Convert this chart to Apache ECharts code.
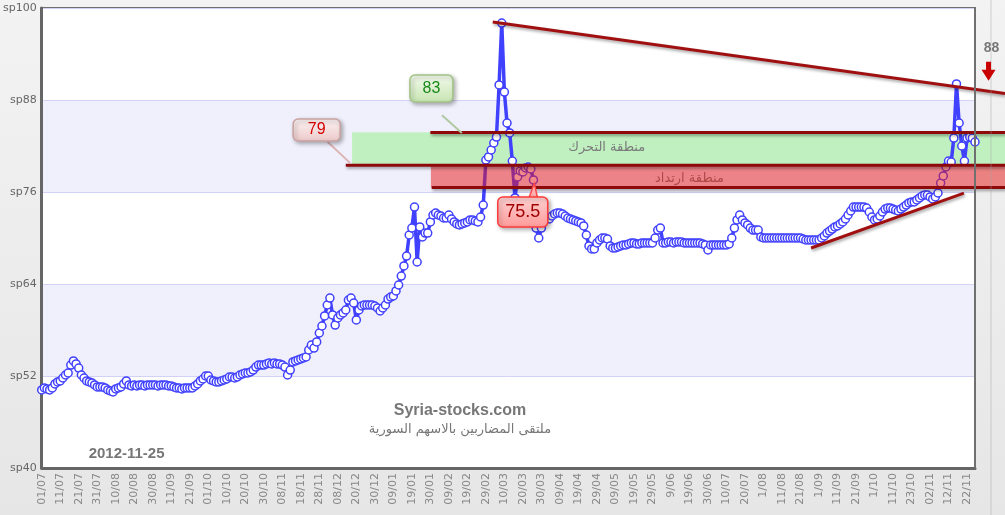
<!DOCTYPE html>
<html>
<head>
<meta charset="utf-8">
<script src="https://cdn.jsdelivr.net/npm/echarts@6/dist/echarts.min.js"></script>
<style>
html,body{margin:0;padding:0;background:linear-gradient(#f3f3f3,#e6e6e6);}
#c{width:1005px;height:515px;}
</style>
</head>
<body>
<div id="c"></div>
<script>
// ---- tick labels (one every 7 trading sessions) ----
const tickLabels = ['01/07','11/07','21/07','31/07','10/08','20/08','30/08','11/09','21/09','01/10',
  '10/10','20/10','30/10','08/11','18/11','28/11','08/12','20/12','30/12','09/01',
  '19/01','30/01','09/02','19/02','29/02','10/03','20/03','30/03','09/04','19/04',
  '29/04','09/05','19/05','29/05','9/06','19/06','30/06','10/07','20/07','1/08',
  '11/08','21/08','1/09','11/09','21/09','1/10','11/10','23/10','02/11','12/11','22/11'];
const sessionsPerTick = 7;

// ---- close values (7 sessions per row) ----
const closeValues = [
  50.18,50.44,50.31,50.18,50.44,50.96,51.22,
  51.35,51.74,52.13,52.39,53.43,53.96,53.57,
  53.04,52.13,51.74,51.35,51.22,51.09,50.83,
  50.57,50.57,50.57,50.44,50.18,50.05,49.92,
  50.31,50.44,50.57,50.96,51.35,50.83,50.70,
  50.83,50.70,50.83,50.83,50.70,50.83,50.83,
  50.83,50.83,50.70,50.83,50.83,50.83,50.70,
  50.70,50.57,50.44,50.44,50.31,50.44,50.44,
  50.44,50.44,50.70,50.96,51.35,51.61,52.00,
  52.00,51.48,51.35,51.22,51.22,51.35,51.48,
  51.61,51.87,51.87,51.74,51.87,52.13,52.26,
  52.39,52.39,52.52,52.78,53.17,53.43,53.43,
  53.43,53.57,53.70,53.57,53.70,53.57,53.57,
  53.43,53.17,52.13,52.78,53.83,53.96,54.09,
  54.22,54.35,54.48,55.39,56.04,55.65,56.44,
  57.61,58.52,59.83,61.26,62.17,59.96,58.65,
  59.57,59.96,60.22,60.61,61.91,62.17,61.52,
  59.31,60.61,61.13,61.26,61.26,61.26,61.26,
  61.13,60.87,60.48,60.87,61.26,62.04,62.30,
  62.44,63.09,63.87,65.04,66.35,67.65,70.39,
  71.30,74.04,66.87,71.44,70.13,70.65,70.65,
  72.09,73.00,73.26,73.00,72.87,72.61,72.61,
  73.00,72.48,72.09,71.83,71.70,71.83,71.96,
  72.09,72.35,72.35,72.22,72.09,72.74,74.30,
  80.17,80.57,81.48,82.39,83.17,89.96,98.04,
  89.04,85.00,83.70,80.04,75.22,77.96,78.74,
  78.61,79.13,79.26,79.00,77.57,71.30,70.00,
  71.30,72.61,72.61,72.48,72.87,73.13,73.26,
  73.26,73.13,72.87,72.61,72.48,72.35,72.22,
  72.09,71.96,71.57,70.39,68.96,68.57,68.57,
  69.35,69.74,70.00,70.00,69.87,68.96,68.70,
  68.70,68.83,68.96,69.09,69.09,69.22,69.35,
  69.35,69.22,69.22,69.35,69.35,69.35,69.35,
  69.35,70.00,71.04,71.30,69.35,69.35,69.48,
  69.48,69.35,69.48,69.48,69.48,69.35,69.35,
  69.35,69.35,69.35,69.35,69.35,69.22,69.09,
  68.44,69.09,69.09,69.09,69.09,69.09,69.09,
  69.09,69.22,70.00,71.30,72.35,73.00,72.35,
  71.96,71.70,71.30,71.04,71.04,71.04,70.13,
  70.00,70.00,70.00,70.00,70.00,70.00,70.00,
  70.00,70.00,70.00,70.00,70.00,70.00,70.00,
  70.00,69.87,69.74,69.74,69.74,69.74,69.74,
  69.74,70.00,70.26,70.65,70.91,71.17,71.44,
  71.57,71.83,72.09,72.48,73.00,73.52,74.04,
  74.04,74.04,74.04,74.04,73.91,73.39,72.74,
  72.35,72.48,72.87,73.39,73.78,73.91,73.91,
  73.78,73.65,73.52,73.78,74.04,74.30,74.57,
  74.70,74.70,74.96,75.22,75.48,75.61,75.61,
  75.35,75.09,75.35,75.87,77.17,78.09,79.26,
  80.04,79.91,83.04,90.09,85.00,82.00,80.04,
  83.04,83.17,83.04,82.52
];

// ---- y axis ----
const yMin = 40, yMax = 100, yStep = 12;

// ---- annotation levels (value units, session index) ----
const levelTop    = {value: 83.75, from: 147};   // "83"
const levelMid    = {value: 79.5,  from: 115};   // "79"
const levelBottom = {value: 76.6,  from: 147.5}; // "75.5"
const greenZone   = {top: 83.8, bottom: 79.55, from: 117.4, label: 'منطقة التحرك', at: [213.7, 81.85]};
const redZone     = {top: 79.5, bottom: 76.6, from: 147.2, label: 'منطقة ارتداد', at: [245, 77.8]};
const trendDown   = [[170.6, 98.17], [348.8, 89.6]];
const trendUp     = [[291, 68.7], [348.8, 75.85]];
const callouts = [
  {text:'83',   center:[147.4, 89.5],  w:43, h:27, tail:[[151.4,86.0],[158.9,83.7]], kind:'green'},
  {text:'79',   center:[104.0, 84.09], w:47, h:22, tail:[[108,82.6],[116.6,79.8]],   kind:'pink'},
  {text:'75.5', center:[181.95,73.39], w:50, h:30, tail:[[186.1,75.4],[186.3,77.1]], kind:'red'}
];

const chart = echarts.init(document.getElementById('c'), null, {renderer:'canvas'});
const seriesData = closeValues.map((v, i) => [i, v]);
const lastIdx = closeValues.length - 1;

chart.setOption({
  animation: false,
  grid: {left: 41, right: 30, top: 8, bottom: 47, show: true, backgroundColor: '#ffffff',
         borderColor: '#707070', borderWidth: 2},
  xAxis: {
    type: 'value', min: 0, max: lastIdx, interval: sessionsPerTick,
    axisLine: {show: true, onZero: false, lineStyle: {color: '#666', width: 3}},
    axisTick: {show: false}, splitLine: {show: false},
    axisLabel: {rotate: 90, margin: 5, color: '#888', fontFamily: 'DejaVu Sans', fontSize: 11,
      showMinLabel: true, showMaxLabel: true,
      formatter: v => (v % sessionsPerTick === 0 && tickLabels[v / sessionsPerTick]) || ''}
  },
  yAxis: {
    type: 'value', min: yMin, max: yMax, interval: yStep,
    axisLine: {show: true, onZero: false, lineStyle: {color: '#666', width: 3}},
    axisTick: {show: false},
    splitLine: {show: true, lineStyle: {color: '#d2d2f6', width: 1}},
    splitArea: {show: true, areaStyle: {color: ['rgba(255,255,255,0)', '#f0f0fd']}},
    axisLabel: {formatter: v => 'sp' + v, color: '#666', fontSize: 11, fontFamily: 'DejaVu Sans', margin: 5}
  },
  series: [{
    type: 'line', data: seriesData, z: 2,
    symbol: 'circle', symbolSize: 8, showAllSymbol: true,
    lineStyle: {color: '#4040ff', width: 3.5},
    itemStyle: {color: '#ffffff', borderColor: '#4040ff', borderWidth: 1.5}
  }]
});

function px(x, y) { return chart.convertToPixel({gridIndex: 0}, [x, y]); }
const W = chart.getWidth(), H = chart.getHeight();
const plotRight = px(lastIdx, yMax)[0];
const plotTop = px(0, yMax)[1], plotBottom = px(0, yMin)[1];
const shadow = {shadowBlur: 3, shadowColor: 'rgba(0,0,0,0.35)', shadowOffsetX: 1, shadowOffsetY: 2};
const els = [];

function band(z, zone, fill) {
  const a = px(zone.from, zone.top), b = px(zone.from, zone.bottom);
  els.push({type: 'rect', z: z, silent: true,
    shape: {x: a[0], y: a[1], width: W - a[0], height: b[1] - a[1]}, style: {fill: fill}});
}
function text(z, t, pos, font, fill) {
  els.push({type: 'text', z: z, silent: true, x: pos[0], y: pos[1],
    style: {text: t, font: font, fill: fill, align: 'center', verticalAlign: 'middle',
            textAlign: 'center', textVerticalAlign: 'middle'}});
}
function hline(level) {
  const a = px(level.from, level.value);
  els.push({type: 'line', z: 11, silent: true,
    shape: {x1: a[0], y1: a[1], x2: W, y2: a[1]},
    style: Object.assign({stroke: '#8e0a0a', lineWidth: 3}, shadow)});
}
function trend(pts, extend) {
  const a = px(pts[0][0], pts[0][1]), b = px(pts[1][0], pts[1][1]);
  let x2 = b[0], y2 = b[1];
  if (extend) { const s = (b[1] - a[1]) / (b[0] - a[0]); x2 = W; y2 = a[1] + s * (W - a[0]); }
  els.push({type: 'line', z: 11, silent: true,
    shape: {x1: a[0], y1: a[1], x2: x2, y2: y2},
    style: Object.assign({stroke: '#a01010', lineWidth: 3}, shadow)});
}

// zones
band(1, greenZone, '#c0f0c0');
text(1, greenZone.label, px(greenZone.at[0], greenZone.at[1]), '13px "DejaVu Sans"', '#7a7a7a');
text(1, redZone.label, px(redZone.at[0], redZone.at[1]), '13px "DejaVu Sans"', '#7a7a7a');
band(10, redZone, 'rgba(232,22,22,0.5)');

// levels and trend lines
hline(levelTop); hline(levelMid); hline(levelBottom);
trend(trendDown, true);
trend(trendUp, false);

// plot frame right edge above the zones, and the faint outer line
els.push({type: 'line', z: 11, silent: true, shape: {x1: plotRight, y1: plotTop, x2: plotRight, y2: plotBottom},
  style: {stroke: '#707070', lineWidth: 2}});
els.push({type: 'line', z: 11, silent: true, shape: {x1: plotRight + 16, y1: 0, x2: plotRight + 16, y2: H},
  style: {stroke: 'rgba(160,160,160,0.45)', lineWidth: 1}});

// callouts
const calloutStyles = {
  green: {top: '#f4fbee', bottom: '#c6e4b0', stroke: '#a2c486', text: '#1a8a1a', tail: '#b0c8a0', font: '16px "Liberation Sans"'},
  pink:  {top: '#fdf3f3', bottom: '#ecc9c9', stroke: '#caa2a2', text: '#d40000', tail: '#dcb4b4', font: '16px "Liberation Sans"'},
  red:   {top: '#ffd2d2', bottom: '#ff9a9a', stroke: '#ff3a3a', text: '#a00000', tail: '#ff4a4a', font: '18px "Liberation Sans"'}
};
callouts.forEach(c => {
  const st = calloutStyles[c.kind];
  const p = px(c.center[0], c.center[1]);
  const t0 = px(c.tail[0][0], c.tail[0][1]), t1 = px(c.tail[1][0], c.tail[1][1]);
  if (c.kind === 'red') {
    els.push({type: 'polygon', z: 12, silent: true,
      shape: {points: [[t0[0] - 5, t0[1] + 2], [t0[0] + 4, t0[1] + 2], t1]},
      style: {fill: '#ffb0b0', stroke: st.tail, lineWidth: 1.5}});
  } else {
    els.push({type: 'line', z: 12, silent: true, shape: {x1: t0[0], y1: t0[1], x2: t1[0], y2: t1[1]},
      style: {stroke: st.tail, lineWidth: 2}});
  }
  els.push({type: 'rect', z: 12, silent: true,
    shape: {x: p[0] - c.w / 2, y: p[1] - c.h / 2, width: c.w, height: c.h, r: 5},
    style: Object.assign({
      fill: new echarts.graphic.LinearGradient(0, 0, 0, 1, [{offset: 0, color: st.top}, {offset: 1, color: st.bottom}]),
      stroke: st.stroke, lineWidth: 1.5}, {shadowBlur: 4, shadowColor: 'rgba(0,0,0,0.3)', shadowOffsetX: 2, shadowOffsetY: 2})});
  text(13, c.text, p, st.font, st.text);
});

// "88" marker at the right with arrow
const m = px(lastIdx + 5.5, 94.8);
text(12, '88', [m[0] + 2, m[1]], 'bold 14px "Liberation Sans"', '#777777');
const ax = m[0] - 1, ay = m[1] + 14;
els.push({type: 'polygon', z: 12, silent: true,
  shape: {points: [[ax - 2.5, ay], [ax + 2.5, ay], [ax + 2.5, ay + 8], [ax + 7, ay + 8], [ax, ay + 19], [ax - 7, ay + 8], [ax - 2.5, ay + 8]]},
  style: {fill: '#c80000'}});

// watermark texts
text(3, 'Syria-stocks.com', px(158.2, 47.44), 'bold 16px "Liberation Sans"', '#777777');
text(3, 'ملتقى المضاربين بالاسهم السورية', px(158.2, 44.96), '13px "DejaVu Sans"', '#777777');
text(3, '2012-11-25', px(32.1, 41.83), 'bold 15px "Liberation Sans"', '#777777');

chart.setOption({graphic: {elements: els}});
</script>
</body>
</html>
